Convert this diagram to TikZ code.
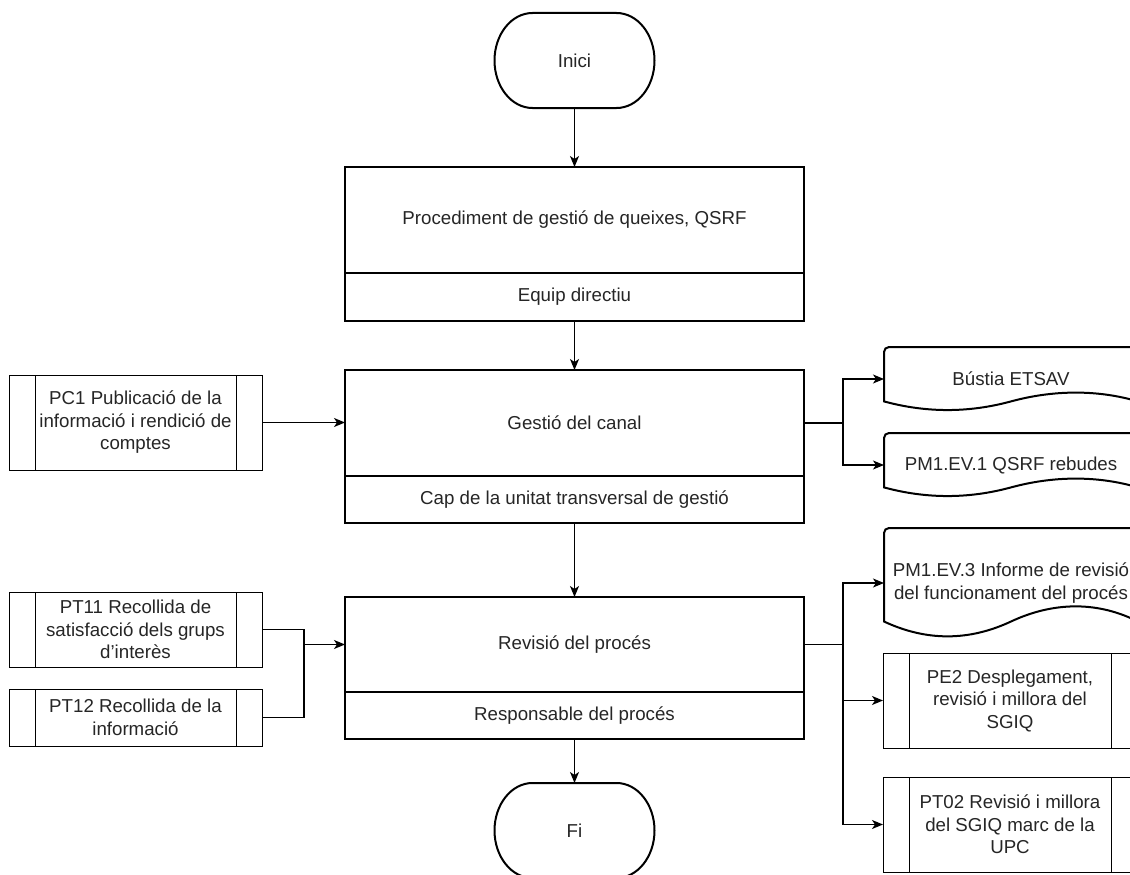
\documentclass[tikz,border=0pt]{standalone}
\usepackage{fontspec}
\setmainfont{Liberation Sans}
\usetikzlibrary{positioning,arrows.meta}

\tikzset{
  every node/.style={outer sep=0pt, inner sep=0pt, align=center,
    font=\fontsize{18.7}{22.5}\selectfont, text=black!85},
  procbox/.style={draw, line width=2pt, minimum width=459pt},
  subbox/.style={procbox, minimum height=47pt},
  predef/.style={draw, line width=1pt, minimum width=253pt},
  docnode/.style={minimum width=254pt},
  termnode/.style={minimum width=160pt, minimum height=95pt},
  flow/.style={line width=1.2pt, -{Stealth[length=11pt,width=9pt,inset=3pt]}},
  link/.style={line width=1.2pt},
}

% start / end shape round a node
\newcommand{\terminal}[1]{%
  \draw[line width=2pt] ([xshift=38pt]#1.north west) -- ([xshift=-38pt]#1.north east)
    arc[start angle=90,end angle=-90,x radius=38pt,y radius=47.5pt]
    -- ([xshift=38pt]#1.south west)
    arc[start angle=270,end angle=90,x radius=38pt,y radius=47.5pt] -- cycle;}

% document shape round a node, #2 = depth of the wave
\newcommand{\docshape}[2]{%
  \draw[line width=2pt, rounded corners=5pt]
    ([yshift=0.5*#2]#1.south west) -- (#1.north west) -- (#1.north east)
    -- ([yshift=0.5*#2]#1.south east) [sharp corners]
    .. controls ([xshift=211.7,yshift=1.1*#2]#1.south west)
       and ([xshift=169.3,yshift=1.1*#2]#1.south west)
    .. ([xshift=127,yshift=0.5*#2]#1.south west)
    .. controls ([xshift=84.7,yshift=-0.1*#2]#1.south west)
       and ([xshift=42.3,yshift=-0.1*#2]#1.south west)
    .. ([yshift=0.5*#2]#1.south west) -- cycle;}

\begin{document}
\begin{tikzpicture}[x=1pt,y=1pt]
\useasboundingbox (0,0) rectangle (1130,-875);
\clip (0,0) rectangle (1130,-875);
\fill[white] (0,0) rectangle (1130,-875);

% centre column
\node[termnode] (inici) at (574.5,-60.5) {Inici};
\node[procbox, minimum height=106pt] (queixes) at (574.5,-220) {Procediment de gestió de queixes, QSRF};
\node[subbox, minimum height=48pt, below=0pt of queixes] (equip) {Equip directiu};
\node[procbox, minimum height=106pt] (canal) at (574.5,-423) {Gestió del canal};
\node[subbox, below=0pt of canal] (cap) {Cap de la unitat transversal de gestió};
\node[procbox, minimum height=95pt] (revisio) at (574.5,-644.5) {Revisió del procés};
\node[subbox, below=0pt of revisio] (resp) {Responsable del procés};
\node[termnode] (fi) at (574.5,-830.5) {Fi};
\terminal{inici}
\terminal{fi}

% left
\node[predef, minimum height=95pt] (pc1) at (135.5,-422.5) {PC1 Publicació de la\\informació i rendició de\\comptes};
\node[predef, minimum height=75pt] (pt11) at (135.5,-629.5) {PT11 Recollida de\\satisfacció dels grups\\d’interès};
\node[predef, minimum height=57pt] (pt12) at (135.5,-717.5) {PT12 Recollida de la\\informació};

% right
\node[docnode, minimum height=64pt] (bustia) at (1011,-379) {Bústia ETSAV};
\node[docnode, minimum height=64pt] (ev1) at (1011,-465) {PM1.EV.1 QSRF rebudes};
\node[docnode, minimum height=110pt] (ev3) at (1011,-583) {PM1.EV.3 Informe de revisió\\del funcionament del procés};
\node[predef, minimum width=254pt, minimum height=95pt] (pe2) at (1010,-700.5) {PE2 Desplegament,\\revisió i millora del\\SGIQ};
\node[predef, minimum width=254pt, minimum height=95pt] (pt02) at (1010,-824.5) {PT02 Revisió i millora\\del SGIQ marc de la\\UPC};
\docshape{bustia}{19.2}
\docshape{ev1}{19.2}
\docshape{ev3}{33}

\foreach \n in {pc1,pt11,pt12,pe2,pt02}
  \draw[line width=1pt] ([xshift=26pt]\n.north west) -- ([xshift=26pt]\n.south west)
    ([xshift=-26pt]\n.north east) -- ([xshift=-26pt]\n.south east);

% connectors
\draw[flow] (inici) -- (queixes);
\draw[flow] (equip) -- (canal);
\draw[flow] (cap) -- (revisio);
\draw[flow] (resp) -- (fi);
\draw[flow] (pc1.east) -- (pc1.east -| canal.west);

\coordinate (jl) at (304,-644.5);
\draw[link] (pt11.east) -| (jl);
\draw[link] (pt12.east) -| (jl);
\draw[flow] (jl) -- (revisio.west);

\coordinate (jr1) at (843,-423);
\draw[link] (canal.east) -- (jr1);
\draw[flow] (jr1) |- (bustia.west);
\draw[flow] (jr1) |- (ev1.west);
\coordinate (jr2) at (843,-644.5);
\draw[link] (revisio.east) -- (jr2);
\foreach \n in {ev3,pe2,pt02}
  \draw[flow] (jr2) |- (\n.west);
\end{tikzpicture}
\end{document}
